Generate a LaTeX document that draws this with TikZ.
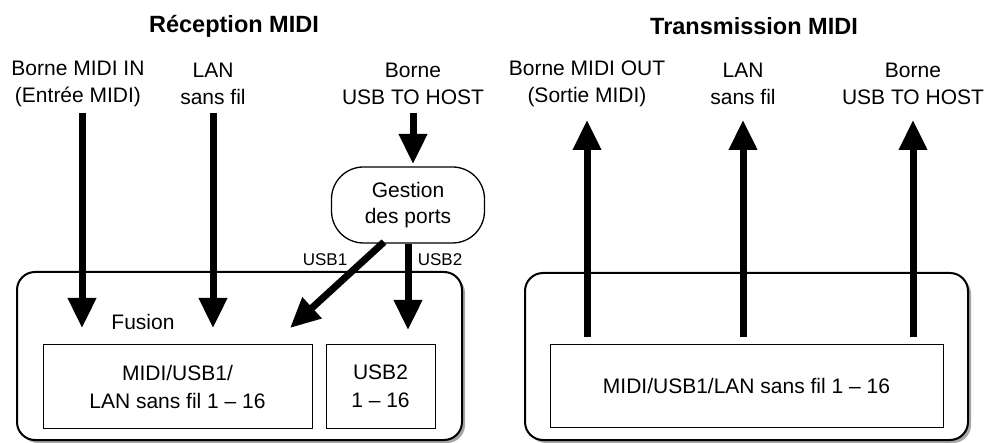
\documentclass[tikz,border=0pt]{standalone}
\usepackage{fontspec}
\setmainfont{Liberation Sans}
\usetikzlibrary{arrows.meta,shadows}
\begin{document}
\begin{tikzpicture}[x=1pt,y=-1pt,
  lbl/.style={font=\fontsize{21}{27}\selectfont, align=center, inner sep=0pt},
  ttl/.style={font=\fontsize{23.5}{28}\selectfont\bfseries, inner sep=0pt},
  small/.style={font=\fontsize{17}{20}\selectfont, inner sep=0pt},
  bigbox/.style={draw, line width=2pt, rounded corners=18pt, fill=white,
    drop shadow={shadow xshift=3pt, shadow yshift=-3pt, fill=black!35, opacity=1}},
  innerbox/.style={draw, line width=1pt, fill=white, inner sep=0pt, align=center,
    font=\fontsize{21}{28}\selectfont},
  portbox/.style={draw, line width=1.3pt, rounded corners=32pt, fill=white, inner sep=0pt,
    align=center, font=\fontsize{21}{26}\selectfont},
  flow/.style={line width=7pt, -{Triangle[width=27pt,length=30pt]}}
]
\useasboundingbox (0,0) rectangle (985,443);

% titles
\node[ttl] (t1) at (234,26) {Réception MIDI};
\node[ttl] (t2) at (754,26) {Transmission MIDI};

% big boxes
\node[bigbox, minimum width=445pt, minimum height=168pt] (lbox) at (239.5,356) {};
\node[bigbox, minimum width=443pt, minimum height=167pt] (rbox) at (746.5,356.5) {};

% inner boxes
\node[innerbox, minimum width=269pt, minimum height=83pt] (in1) at (177.5,386.5) {MIDI/USB1/\\LAN sans fil 1 – 16};
\node[innerbox, minimum width=109pt, minimum height=83pt] (in2) at (380.5,386.5) {USB2\\1 – 16};
\node[innerbox, minimum width=393pt, minimum height=82pt] (out1) at (746.5,386) {MIDI/USB1/LAN sans fil 1 – 16};

\node[lbl] (fus) at (143,322) {Fusion};

% left labels
\node[lbl] (l1) at (78,83.5) {Borne MIDI IN\\(Entrée MIDI)};
\node[lbl] (l2) at (213,83.5) {LAN\\sans fil};
\node[lbl] (l3) at (413,83.5) {Borne\\USB TO HOST};

% right labels
\node[lbl] (r1) at (587,83.5) {Borne MIDI OUT\\(Sortie MIDI)};
\node[lbl] (r2) at (743,83.5) {LAN\\sans fil};
\node[lbl] (r3) at (913,83.5) {Borne\\USB TO HOST};

% port management
\node[portbox, minimum width=153pt, minimum height=76pt] (gest) at (408,205) {Gestion\\des ports};

\node[small] (u1) at (325,260) {USB1};
\node[small] (u2) at (440,260) {USB2};

% coordinates
\coordinate (a1s) at (82,113);   \coordinate (a1e) at (82,328);
\coordinate (a2s) at (213,113);  \coordinate (a2e) at (213,328);
\coordinate (a3s) at (413,113);  \coordinate (a3e) at (413,164);
\coordinate (a4s) at (384,242);  \coordinate (a4e) at (290,328);
\coordinate (a5e) at (408,330);
\coordinate (b1s) at (587,337);  \coordinate (b1e) at (587,120);
\coordinate (b2s) at (743,337);  \coordinate (b2e) at (743,120);
\coordinate (b3s) at (913,337);  \coordinate (b3e) at (913,120);

\draw[flow] (a1s) -- (a1e);
\draw[flow] (a2s) -- (a2e);
\draw[flow] (a3s) -- (a3e);
\draw[flow] (a4s) -- (a4e);
\draw[flow] (gest.south -| a5e) -- (a5e);
\draw[flow] (b1s) -- (b1e);
\draw[flow] (b2s) -- (b2e);
\draw[flow] (b3s) -- (b3e);
\end{tikzpicture}
\end{document}
